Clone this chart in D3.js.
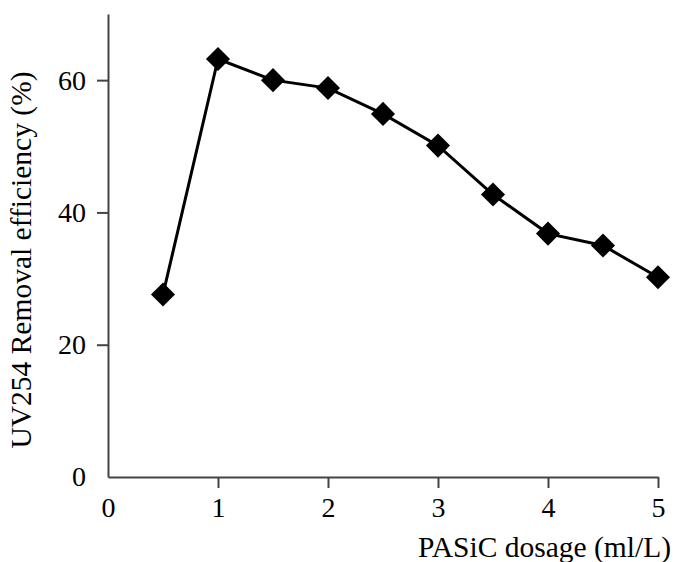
<!DOCTYPE html>
<html>
<head>
<meta charset="utf-8">
<script src="https://cdn.jsdelivr.net/npm/d3@7"></script>
<style>
    body { margin: 0; background: #fff; }
    text { font-family: "Liberation Serif", "Times New Roman", serif; fill: #000; }
</style>
</head>
<body>
<div class="removal-chart"></div>
<script>
// PASiC dosage (ml/L) and UV254 removal efficiency (%)
const dosage = [0.5, 1, 1.5, 2, 2.5, 3, 3.5, 4, 4.5, 5];
const removal = [27.6, 63.2, 60.0, 58.8, 54.9, 50.1, 42.7, 36.8, 35.0, 30.2];
const xTicks = [0, 1, 2, 3, 4, 5];
const yTicks = [0, 20, 40, 60];

const width = 678, height = 562,
    margin = { top: 14, right: 20, bottom: 85, left: 108 },
    innerW = width - margin.left - margin.right,
    innerH = height - margin.top - margin.bottom;

let svg = d3.select(".removal-chart").append("svg")
    .attr("width", width).attr("height", height);

let g = svg.append("g")
    .attr("transform", "translate(" + margin.left + "," + margin.top + ")");

let x = d3.scaleLinear().domain([0, 5]).range([0, innerW]),
    y = d3.scaleLinear().domain([0, 70]).range([innerH, 0]);

// x axis
let xAxis = g.append("g")
    .attr("transform", "translate(0," + innerH + ")")
    .call(d3.axisBottom(x).tickValues(xTicks).tickFormat(d3.format("d"))
        .tickSize(11).tickPadding(9).tickSizeOuter(0));
xAxis.select(".domain").attr("stroke", "#444").attr("stroke-width", 2);
xAxis.selectAll(".tick line").attr("stroke", "#444").attr("stroke-width", 2);
xAxis.selectAll(".tick text").style("font-size", "28px");

// y axis
let yAxis = g.append("g")
    .call(d3.axisLeft(y).tickValues(yTicks).tickSize(11).tickPadding(11).tickSizeOuter(0));
yAxis.select(".domain").attr("stroke", "#444").attr("stroke-width", 2);
yAxis.selectAll(".tick line").attr("stroke", "#444").attr("stroke-width", 2);
yAxis.selectAll(".tick text").style("font-size", "28px");
// the zero ticks carry no tick mark in the original
yAxis.selectAll(".tick").filter(d => d === 0).select("line").remove();
xAxis.selectAll(".tick").filter(d => d === 0).select("line").remove();

// titles
svg.append("text")
    .attr("x", 671).attr("y", 557)
    .attr("text-anchor", "end")
    .style("font-size", "29.5px")
    .text("PASiC dosage (ml/L)");

svg.append("text")
    .attr("transform", "translate(31,260) rotate(-90)")
    .attr("text-anchor", "middle")
    .style("font-size", "29.5px")
    .text("UV254 Removal efficiency (%)");

// line
let pts = dosage.map((d, i) => [d, removal[i]]);
g.append("path")
    .datum(pts)
    .attr("fill", "none")
    .attr("stroke", "#000")
    .attr("stroke-width", 3)
    .attr("d", d3.line().x(d => x(d[0])).y(d => y(d[1])));

// diamond markers
g.selectAll(".marker")
    .data(pts)
    .enter().append("path")
    .attr("class", "marker")
    .attr("transform", d => "translate(" + x(d[0]) + "," + y(d[1]) + ") rotate(45)")
    .attr("d", d3.symbol().type(d3.symbolSquare).size(290))
    .attr("fill", "#000");
</script>
</body>
</html>
